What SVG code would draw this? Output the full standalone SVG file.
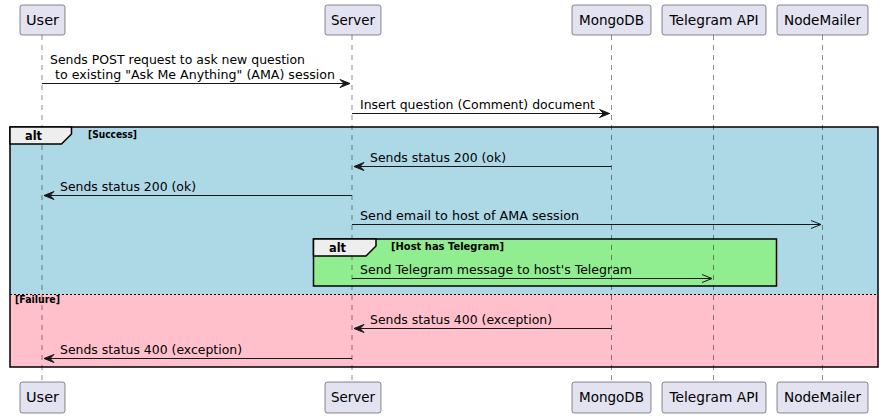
<svg xmlns="http://www.w3.org/2000/svg" width="884" height="418" viewBox="0 0 884 418">
<defs>
<style>
.t{font-family:"DejaVu Sans","Liberation Sans",sans-serif;font-size:13px;fill:#000}
.p{font-family:"DejaVu Sans","Liberation Sans",sans-serif;font-size:14px;fill:#000;text-anchor:middle}
.b{font-family:"DejaVu Sans","Liberation Sans",sans-serif;font-weight:bold;fill:#000}
.box{fill:#E2E2F0;stroke:#181818;stroke-width:0.5}
.life{stroke:#181818;stroke-width:0.5;stroke-dasharray:5,5}
.msg{stroke:#181818;stroke-width:1;fill:none}
.ah{fill:#181818;stroke:#181818;stroke-width:1}
.frame{fill:none;stroke:#000;stroke-width:1.5}
.tab{fill:#EEEEEE;stroke:#000;stroke-width:1.5}
</style>
</defs>
<rect width="884" height="418" fill="#fff"/>
<!-- frames background -->
<rect x="10" y="127" width="868" height="167" fill="#ADD8E6"/>
<rect x="10" y="294" width="868" height="73" fill="#FFC0CB"/>
<rect x="313.5" y="239" width="463" height="47" fill="#90EE90"/>
<!-- lifelines -->
<g id="lifelines">
<line class="life" x1="42" y1="35" x2="42" y2="382"/>
<line class="life" x1="352" y1="35" x2="352" y2="382"/>
<line class="life" x1="611.5" y1="35" x2="611.5" y2="382"/>
<line class="life" x1="713.5" y1="35" x2="713.5" y2="382"/>
<line class="life" x1="822.5" y1="35" x2="822.5" y2="382"/>
</g>
<!-- participants -->
<g id="user-top"><rect class="box" x="20" y="5" width="45" height="30" rx="2.5"/><text class="p" x="42.5" y="25" textLength="33" lengthAdjust="spacingAndGlyphs">User</text></g>
<g id="server-top"><rect class="box" x="325" y="5" width="56" height="30" rx="2.5"/><text class="p" x="353" y="25" textLength="44" lengthAdjust="spacingAndGlyphs">Server</text></g>
<g id="mongodb-top"><rect class="box" x="572" y="5" width="79" height="30" rx="2.5"/><text class="p" x="611.5" y="25" textLength="65" lengthAdjust="spacingAndGlyphs">MongoDB</text></g>
<g id="telegram-top"><rect class="box" x="662" y="5" width="104" height="30" rx="2.5"/><text class="p" x="714" y="25" textLength="89" lengthAdjust="spacingAndGlyphs">Telegram API</text></g>
<g id="nodemailer-top"><rect class="box" x="777" y="5" width="91" height="30" rx="2.5"/><text class="p" x="822.5" y="25" textLength="77" lengthAdjust="spacingAndGlyphs">NodeMailer</text></g>
<g id="user-bottom"><rect class="box" x="20" y="382" width="45" height="31" rx="2.5"/><text class="p" x="42.5" y="402" textLength="33" lengthAdjust="spacingAndGlyphs">User</text></g>
<g id="server-bottom"><rect class="box" x="325" y="382" width="56" height="31" rx="2.5"/><text class="p" x="353" y="402" textLength="44" lengthAdjust="spacingAndGlyphs">Server</text></g>
<g id="mongodb-bottom"><rect class="box" x="572" y="382" width="79" height="31" rx="2.5"/><text class="p" x="611.5" y="402" textLength="65" lengthAdjust="spacingAndGlyphs">MongoDB</text></g>
<g id="telegram-bottom"><rect class="box" x="662" y="382" width="104" height="31" rx="2.5"/><text class="p" x="714" y="402" textLength="89" lengthAdjust="spacingAndGlyphs">Telegram API</text></g>
<g id="nodemailer-bottom"><rect class="box" x="777" y="382" width="91" height="31" rx="2.5"/><text class="p" x="822.5" y="402" textLength="77" lengthAdjust="spacingAndGlyphs">NodeMailer</text></g>
<!-- frames -->
<g id="alt-outer">
<rect class="frame" x="10" y="127" width="868" height="240"/>
<polygon class="tab" points="10,127 71.5,127 71.5,134 61.5,144 10,144"/>
<text class="b" x="25" y="140" font-size="12" textLength="17" lengthAdjust="spacingAndGlyphs">alt</text>
<text class="b" x="88" y="137.5" font-size="10" textLength="49" lengthAdjust="spacingAndGlyphs">[Success]</text>
<line x1="10" y1="294.5" x2="878" y2="294.5" stroke="#000" stroke-width="1" stroke-dasharray="2,2"/>
<text class="b" x="15" y="303" font-size="10" textLength="45" lengthAdjust="spacingAndGlyphs">[Failure]</text>
</g>
<g id="alt-inner">
<rect class="frame" x="313.5" y="239" width="463" height="47"/>
<polygon class="tab" points="313.5,239 376,239 376,246 366,256 313.5,256"/>
<text class="b" x="329" y="252" font-size="12" textLength="17" lengthAdjust="spacingAndGlyphs">alt</text>
<text class="b" x="391" y="249.5" font-size="10" textLength="113" lengthAdjust="spacingAndGlyphs">[Host has Telegram]</text>
</g>
<!-- connectors -->
<g id="connectors">
<line class="msg" x1="42" y1="83.5" x2="350" y2="83.5"/>
<polygon class="ah" points="340,79.5 350,83.5 340,87.5 344,83.5"/>
<text class="t" x="50" y="63.5" textLength="255" lengthAdjust="spacingAndGlyphs">Sends POST request to ask new question</text>
<text class="t" x="55" y="78.5" textLength="280" lengthAdjust="spacingAndGlyphs">to existing "Ask Me Anything" (AMA) session</text>

<line class="msg" x1="352" y1="113.5" x2="609.5" y2="113.5"/>
<polygon class="ah" points="599.5,109.5 609.5,113.5 599.5,117.5 603.5,113.5"/>
<text class="t" x="360" y="108.5" textLength="235" lengthAdjust="spacingAndGlyphs">Insert question (Comment) document</text>

<line class="msg" x1="354" y1="166.5" x2="611.5" y2="166.5"/>
<polygon class="ah" points="364,162.5 354,166.5 364,170.5 360,166.5"/>
<text class="t" x="370" y="161.5" textLength="136" lengthAdjust="spacingAndGlyphs">Sends status 200 (ok)</text>

<line class="msg" x1="44" y1="195.5" x2="352" y2="195.5"/>
<polygon class="ah" points="54,191.5 44,195.5 54,199.5 50,195.5"/>
<text class="t" x="60" y="190.5" textLength="136" lengthAdjust="spacingAndGlyphs">Sends status 200 (ok)</text>

<line class="msg" x1="352" y1="224.5" x2="821" y2="224.5"/>
<polyline class="msg" points="811,220.5 821,224.5 811,228.5"/>
<text class="t" x="360" y="219.5" textLength="219" lengthAdjust="spacingAndGlyphs">Send email to host of AMA session</text>

<line class="msg" x1="352" y1="278.5" x2="712" y2="278.5"/>
<polyline class="msg" points="702,274.5 712,278.5 702,282.5"/>
<text class="t" x="360" y="273.5" textLength="272" lengthAdjust="spacingAndGlyphs">Send Telegram message to host's Telegram</text>

<line class="msg" x1="354" y1="328.5" x2="611.5" y2="328.5"/>
<polygon class="ah" points="364,324.5 354,328.5 364,332.5 360,328.5"/>
<text class="t" x="370" y="323.5" textLength="182" lengthAdjust="spacingAndGlyphs">Sends status 400 (exception)</text>

<line class="msg" x1="44" y1="358.5" x2="352" y2="358.5"/>
<polygon class="ah" points="54,354.5 44,358.5 54,362.5 50,358.5"/>
<text class="t" x="60" y="353.5" textLength="182" lengthAdjust="spacingAndGlyphs">Sends status 400 (exception)</text>
</g>
</svg>
